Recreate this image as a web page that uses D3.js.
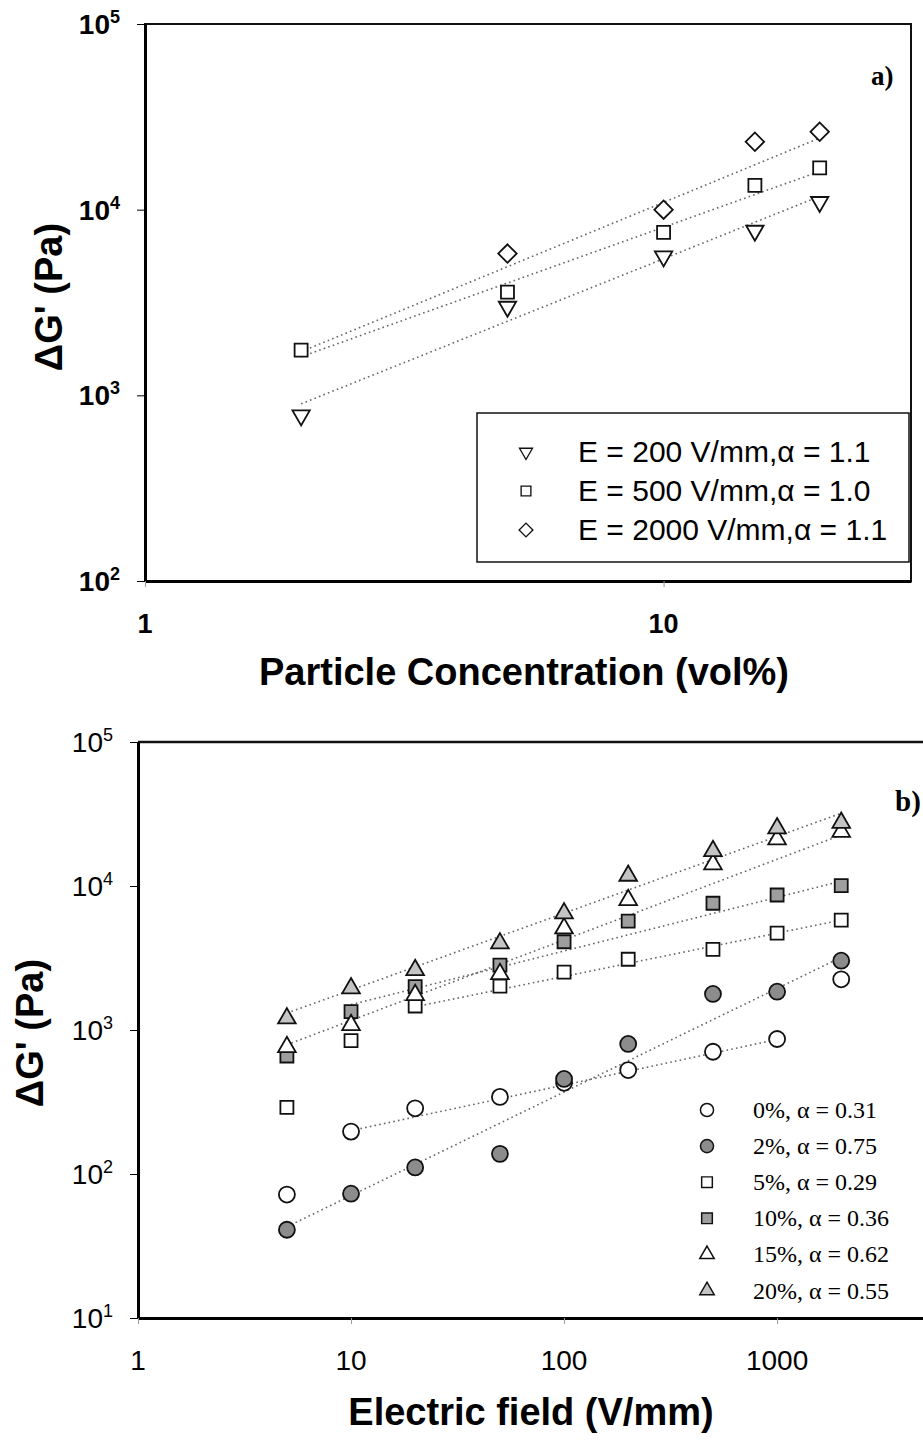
<!DOCTYPE html>
<html>
<head>
<meta charset="utf-8">
<script src="https://cdn.jsdelivr.net/npm/d3@7"></script>
<style>
body { margin: 0; background: #fff; }
svg { display: block; }
</style>
</head>
<body>
<script>
// ---- panel a) : modulus vs particle concentration ----
var concX = [2, 5, 10, 15, 20]
var gE200 = [780, 3000, 5600, 7700, 11000]
var gE500 = [1750, 3600, 7550, 13500, 16800]
var gE2000 = [null, 5800, 10000, 23200, 26300]
// trend lines as [x, y] end points
var fitE200 = [[2, 900], [20, 11800]]
var fitE500 = [[2, 1614], [20, 16070]]
var fitE2000 = [[2, 1718], [20, 24300]]
var legendA = ["E = 200 V/mm,\u03b1 = 1.1", "E = 500 V/mm,\u03b1 = 1.0", "E = 2000 V/mm,\u03b1 = 1.1"]
var yTicksA = [100, 1000, 10000, 100000]
var xTicksA = [1, 10]

// ---- panel b) : modulus vs electric field ----
var fieldX = [5, 10, 20, 50, 100, 200, 500, 1000, 2000]
var g0 = [72, 197, 286, 343, 430, 527, 706, 866, 2250]
var g2 = [41, 73, 111, 138, 457, 800, 1780, 1845, 3030]
var g5 = [290, 843, 1468, 2020, 2520, 3100, 3630, 4700, 5800]
var g10 = [660, 1340, 2000, 2825, 4100, 5710, 7590, 8660, 10050]
var g15 = [762, 1083, 1750, 2450, 5080, 8000, 14150, 21100, 23800]
var g20 = [1205, 1950, 2610, 4000, 6460, 11800, 17500, 25200, 27500]
var fit0 = [[10, 200], [1000, 860]]
var fit2 = [[5, 43], [2000, 3200]]
var fit5 = [[20, 1450], [2000, 5800]]
var fit10 = [[10, 1500], [2000, 10800]]
var fit15 = [[5, 790], [2000, 22600]]
var fit20 = [[5, 1310], [2000, 32000]]
var legendB = ["0%, \u03b1 = 0.31", "2%, \u03b1 = 0.75", "5%, \u03b1 = 0.29", "10%, \u03b1 = 0.36", "15%, \u03b1 = 0.62", "20%, \u03b1 = 0.55"]
var yTicksB = [10, 100, 1000, 10000, 100000]
var xTicksB = [1, 10, 100, 1000]

var w = 923
var h = 1445
var sans = "Arial, 'Liberation Sans', Helvetica, sans-serif"
var serif = "'Times New Roman', 'Liberation Serif', serif"

var svg = d3.select("body")
            .append("svg")
            .attr("width", w)
            .attr("height", h)

// marker shapes
function marker(g, shape, fill) {
    var p
    if (shape == "down") {
        p = g.append("path").attr("d", d3.symbol(d3.symbolTriangle, 130)()).attr("transform", "rotate(180)")
    } else if (shape == "up") {
        p = g.append("path").attr("d", d3.symbol(d3.symbolTriangle, 135)())
    } else if (shape == "square") {
        p = g.append("path").attr("d", d3.symbol(d3.symbolSquare, 169)())
    } else if (shape == "diamond") {
        p = g.append("path").attr("d", d3.symbol(d3.symbolSquare, 170)()).attr("transform", "rotate(45)")
    } else {
        p = g.append("circle").attr("r", 8)
    }
    p.attr("fill", fill).attr("stroke", "#111").attr("stroke-width", 1.8)
    return p
}

function drawPoints(xs, ys, xScale, yScale, shape, fill) {
    xs.forEach(function(x, i) {
        if (ys[i] == null) return
        var g = svg.append("g")
            .attr("transform", "translate(" + xScale(x) + "," + yScale(ys[i]) + ")")
        marker(g, shape, fill)
    })
}

function drawFit(pts, xScale, yScale) {
    svg.append("line")
        .attr("x1", xScale(pts[0][0])).attr("y1", yScale(pts[0][1]))
        .attr("x2", xScale(pts[1][0])).attr("y2", yScale(pts[1][1]))
        .attr("stroke", "#666")
        .attr("stroke-width", 1.6)
        .attr("stroke-dasharray", "1.6,3.2")
}

function powLabel(x, y, exp, size, weight) {
    var t = svg.append("text")
        .attr("x", x).attr("y", y)
        .attr("text-anchor", "end")
        .style("font-family", sans)
        .style("font-weight", weight)
        .style("font-size", size + "px")
    t.append("tspan").text("10")
    t.append("tspan").attr("dy", -11).style("font-size", Math.round(size * 0.64) + "px").text(exp)
}

// ================= panel a =================
var xa = d3.scaleLog().domain([1, 30]).range([145, 911])
var ya = d3.scaleLog().domain([100, 100000]).range([581, 24])

// frame
svg.append("rect")
    .attr("x", 145).attr("y", 24)
    .attr("width", 911 - 145).attr("height", 581 - 24)
    .attr("fill", "none").attr("stroke", "#111").attr("stroke-width", 2)

svg.append("g")
    .attr("transform", "translate(145,0)")
    .call(d3.axisLeft(ya).tickValues(yTicksA).tickSize(8).tickSizeOuter(0).tickFormat(""))
    .call(g => g.select(".domain").attr("stroke-width", 3))

svg.append("g")
    .attr("transform", "translate(0,581)")
    .call(d3.axisBottom(xa).tickValues(xTicksA).tickSize(6).tickSizeOuter(0).tickFormat(""))
    .call(g => g.select(".domain").attr("stroke-width", 3))
    .call(g => g.selectAll(".tick line").attr("stroke", "#999"))

yTicksA.forEach(function(v) {
    powLabel(120, ya(v) + 10, Math.round(Math.log10(v)), 28, "bold")
})
xTicksA.forEach(function(v) {
    svg.append("text")
        .attr("x", xa(v)).attr("y", 633)
        .attr("text-anchor", "middle")
        .style("font-family", sans).style("font-weight", "bold").style("font-size", "27px")
        .text(v)
})

svg.append("text")
    .attr("x", 524).attr("y", 685)
    .attr("text-anchor", "middle")
    .style("font-family", sans).style("font-weight", "bold").style("font-size", "38px")
    .text("Particle Concentration (vol%)")

svg.append("text")
    .attr("transform", "translate(62,297) rotate(-90)")
    .attr("text-anchor", "middle")
    .style("font-family", sans).style("font-weight", "bold").style("font-size", "38px")
    .text("\u0394G' (Pa)")

svg.append("text")
    .attr("x", 871).attr("y", 85)
    .style("font-family", serif).style("font-weight", "bold").style("font-size", "27px")
    .text("a)")

drawFit(fitE200, xa, ya)
drawFit(fitE500, xa, ya)
drawFit(fitE2000, xa, ya)
drawPoints(concX, gE200, xa, ya, "down", "#fff")
drawPoints(concX, gE500, xa, ya, "square", "#fff")
drawPoints(concX, gE2000, xa, ya, "diamond", "#fff")

// legend a
svg.append("rect")
    .attr("x", 477).attr("y", 413).attr("width", 432).attr("height", 149)
    .attr("fill", "#fff").attr("stroke", "#111").attr("stroke-width", 1.5)
var shapesA = ["down", "square", "diamond"]
legendA.forEach(function(s, i) {
    var cy = 452 + i * 39
    var g = svg.append("g").attr("transform", "translate(526," + cy + ") scale(0.75)")
    marker(g, shapesA[i], "#fff")
    svg.append("text")
        .attr("x", 578).attr("y", cy + 10)
        .style("font-family", sans).style("font-size", "30px")
        .text(s)
})

// ================= panel b =================
var xb = d3.scaleLog().domain([1, 5000]).range([138, 926])
var yb = d3.scaleLog().domain([10, 100000]).range([1318, 742])

svg.append("line")
    .attr("x1", 138).attr("x2", 926).attr("y1", 742).attr("y2", 742)
    .attr("stroke", "#111").attr("stroke-width", 2.5)

svg.append("g")
    .attr("transform", "translate(138,0)")
    .call(d3.axisLeft(yb).tickValues(yTicksB).tickSize(8).tickSizeOuter(0).tickFormat(""))
    .call(g => g.select(".domain").attr("stroke-width", 3))

svg.append("g")
    .attr("transform", "translate(0,1318)")
    .call(d3.axisBottom(xb).tickValues(xTicksB).tickSize(6).tickSizeOuter(0).tickFormat(""))
    .call(g => g.select(".domain").attr("stroke-width", 3))
    .call(g => g.selectAll(".tick line").attr("stroke", "#999"))

yTicksB.forEach(function(v) {
    powLabel(113, yb(v) + 10, Math.round(Math.log10(v)), 28, "normal")
})
xTicksB.forEach(function(v) {
    svg.append("text")
        .attr("x", xb(v)).attr("y", 1370)
        .attr("text-anchor", "middle")
        .style("font-family", sans).style("font-size", "28px")
        .text(v)
})

svg.append("text")
    .attr("x", 531).attr("y", 1425)
    .attr("text-anchor", "middle")
    .style("font-family", sans).style("font-weight", "bold").style("font-size", "38px")
    .text("Electric field (V/mm)")

svg.append("text")
    .attr("transform", "translate(43,1033) rotate(-90)")
    .attr("text-anchor", "middle")
    .style("font-family", sans).style("font-weight", "bold").style("font-size", "38px")
    .text("\u0394G' (Pa)")

svg.append("text")
    .attr("x", 895).attr("y", 811)
    .style("font-family", serif).style("font-weight", "bold").style("font-size", "29px")
    .text("b)")

var seriesB = [g0, g2, g5, g10, g15, g20]
var fitsB = [fit0, fit2, fit5, fit10, fit15, fit20]
var shapesB = ["circle", "circle", "square", "square", "up", "up"]
var fillsB = ["#fff", "#8c8c8c", "#fff", "#9e9e9e", "#fff", "#c4c4c4"]

fitsB.forEach(f => drawFit(f, xb, yb))
seriesB.forEach(function(s, i) {
    drawPoints(fieldX, s, xb, yb, shapesB[i], fillsB[i])
})

// legend b
legendB.forEach(function(s, i) {
    var cy = 1110 + i * 36.1
    var g = svg.append("g").attr("transform", "translate(707," + cy + ") scale(0.82)")
    marker(g, shapesB[i], fillsB[i])
    svg.append("text")
        .attr("x", 753).attr("y", cy + 8)
        .style("font-family", serif).style("font-size", "24px")
        .text(s)
})
</script>
</body>
</html>
